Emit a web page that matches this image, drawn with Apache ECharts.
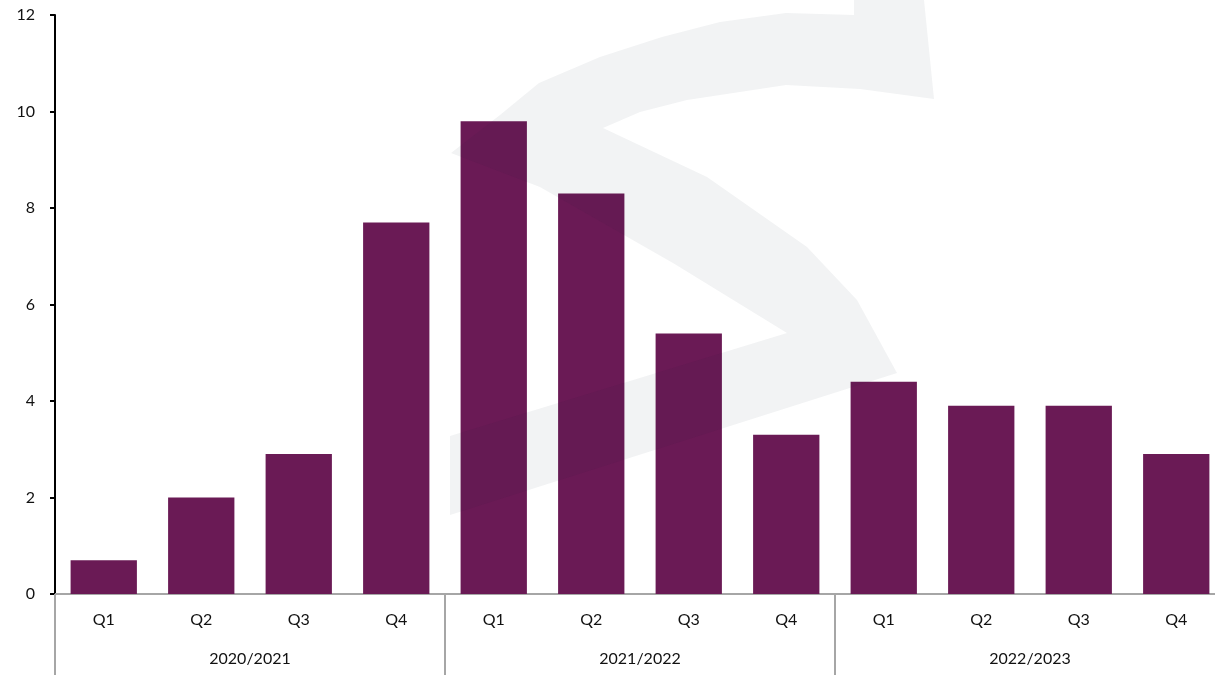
<!DOCTYPE html>
<html>
<head>
<meta charset="utf-8">
<script src="https://cdn.jsdelivr.net/npm/echarts@6/dist/echarts.min.js"></script>
<style>
html,body{margin:0;padding:0;background:#fff;}
#chart{width:1215px;height:675px;}
</style>
</head>
<body>
<div id="chart"></div>
<script>
var quarters = ['Q1','Q2','Q3','Q4','Q1','Q2','Q3','Q4','Q1','Q2','Q3','Q4'];
var years = ['2020/2021','2021/2022','2022/2023'];
var values = [0.7, 2.0, 2.9, 7.7, 9.8, 8.3, 5.4, 3.3, 4.4, 3.9, 3.9, 2.9];
var yTicks = [0, 2, 4, 6, 8, 10, 12];

// decorative background logo outline (watermark)
var logoOutline = [[451,153],[500,115],[539,83],[600,57],[662,37],[720,22],[786,13],[854,15],[854,0],[924,0],[934,99],[860,89],[786,85],[687,100],[640,112],[603,128],[707,177],[807,247],[857,300],[897,373],[450,515],[450,436],[787,333],[673,263],[540,187]];

var chart = echarts.init(document.getElementById('chart'), null, {renderer:'canvas'});
var font = 'Lato, "Open Sans", sans-serif';
chart.setOption({
  backgroundColor: '#ffffff',
  animation: false,
  graphic: [
    {type:'polygon', z:3, silent:true,
     shape:{points: logoOutline, smooth: 0},
     style:{fill:'rgba(20,30,60,0.055)'}}
  ],
  grid: {left: 55, width: 1170, top: 15, bottom: 81, containLabel: false, outerBoundsMode: 'none'},
  xAxis: [
    {
      type: 'category', data: quarters, position: 'bottom',
      axisLine: {show: true, lineStyle: {color: '#a6a6a6', width: 2}},
      axisTick: {show: false},
      axisLabel: {color: '#111', fontSize: 16, fontFamily: font, margin: 18},
      splitLine: {show: false}
    },
    {
      type: 'category', data: years, position: 'bottom', gridIndex: 0,
      axisLine: {show: false},
      axisTick: {show: true, length: 81, lineStyle: {color: '#a6a6a6', width: 2}},
      axisLabel: {color: '#111', fontSize: 16, fontFamily: font, margin: 57},
      splitLine: {show: false}
    }
  ],
  yAxis: {
    type: 'value', min: yTicks[0], max: yTicks[yTicks.length-1], interval: 2,
    axisLine: {show: true, lineStyle: {color: '#000', width: 2}},
    axisTick: {show: true, length: 5, lineStyle: {color: '#000', width: 2}},
    axisLabel: {color: '#111', fontSize: 16, fontFamily: font, margin: 20},
    splitLine: {show: false}
  },
  series: [{
    type: 'bar', data: values, xAxisIndex: 0,
    barCategoryGap: '32%',
    itemStyle: {color: '#6a1a55'}
  }]
});
</script>
</body>
</html>
